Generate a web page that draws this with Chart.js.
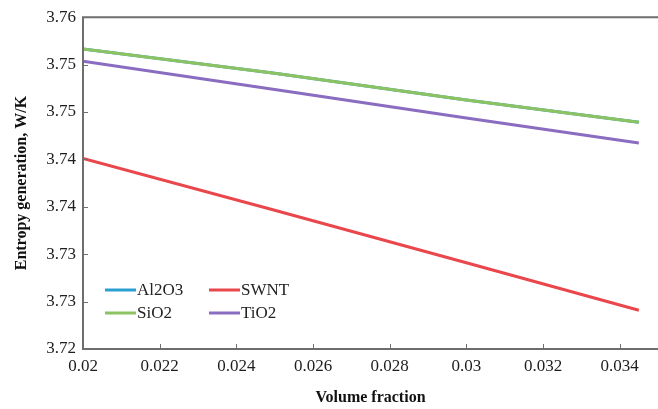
<!DOCTYPE html>
<html>
<head>
<meta charset="utf-8">
<script src="https://cdn.jsdelivr.net/npm/chart.js@4.4.1/dist/chart.umd.min.js"></script>
<style>
  html, body { margin: 0; padding: 0; background: #fff; }
  #wrap { width: 658px; height: 409px; }
</style>
</head>
<body>
<div id="wrap"><canvas id="entropyChart" width="658" height="409"></canvas></div>
<script>
// volume fraction samples
const volumeFraction = [0.02, 0.025, 0.03, 0.0345];

// entropy generation (W/K) per nanofluid
const al2o3 = [3.7548, 3.7520, 3.7489, 3.7463];
const sio2  = [3.7548, 3.7520, 3.7489, 3.7463];
const swnt  = [3.7421, 3.7361, 3.7300, 3.7245];
const tio2  = [3.7534, 3.7501, 3.7468, 3.7439];

const xTickValues = [0.02, 0.022, 0.024, 0.026, 0.028, 0.03, 0.032, 0.034];
const xTickLabels = ['0.02', '0.022', '0.024', '0.026', '0.028', '0.03', '0.032', '0.034'];
const yTickValues = [3.72, 3.7255, 3.731, 3.7365, 3.742, 3.7475, 3.753, 3.7585];
const yTickLabels = ['3.72', '3.73', '3.73', '3.74', '3.74', '3.75', '3.75', '3.76'];

const serif = '"Liberation Serif", "DejaVu Serif", serif';

function points(ys) {
    return ys.map((y, i) => ({ x: volumeFraction[i], y: y }));
}

// left/top/bottom frame plus short inward tick marks
const frame = {
    id: 'frame',
    afterDatasetsDraw(chart) {
        const { ctx, chartArea: a, scales } = chart;
        ctx.save();
        ctx.strokeStyle = '#6e6e6e';
        ctx.lineWidth = 2;
        ctx.beginPath();
        ctx.moveTo(a.right, a.top);
        ctx.lineTo(a.left, a.top);
        ctx.lineTo(a.left, a.bottom);
        ctx.lineTo(a.right, a.bottom);
        ctx.stroke();
        ctx.lineWidth = 1;
        ctx.beginPath();
        scales.y.ticks.forEach(t => {
            const py = Math.round(scales.y.getPixelForValue(t.value)) + 0.5;
            ctx.moveTo(a.left, py);
            ctx.lineTo(a.left + 5, py);
        });
        scales.x.ticks.forEach(t => {
            const px = Math.round(scales.x.getPixelForValue(t.value)) + 0.5;
            ctx.moveTo(px, a.bottom);
            ctx.lineTo(px, a.bottom - 5);
        });
        ctx.stroke();
        ctx.restore();
    }
};

// two-column legend inside the plot, lower left
const insideLegend = {
    id: 'insideLegend',
    afterDraw(chart) {
        const { ctx, chartArea: a } = chart;
        const slots = [
            { dx: 22, dy: -59 }, { dx: 126, dy: -59 },
            { dx: 22, dy: -36 }, { dx: 126, dy: -36 }
        ];
        const order = [0, 2, 1, 3];
        ctx.save();
        ctx.font = '17px ' + serif;
        ctx.fillStyle = '#222';
        ctx.textBaseline = 'middle';
        order.forEach((di, k) => {
            const ds = chart.data.datasets[di];
            const s = slots[k];
            const x = a.left + s.dx, y = a.bottom + s.dy;
            ctx.strokeStyle = ds.borderColor;
            ctx.lineWidth = 3;
            ctx.beginPath();
            ctx.moveTo(x, y);
            ctx.lineTo(x + 31, y);
            ctx.stroke();
            ctx.fillText(ds.label, x + 32, y + 1);
        });
        ctx.restore();
    }
};

new Chart(document.getElementById('entropyChart').getContext('2d'), {
    type: 'line',
    data: {
        datasets: [
            { label: 'Al2O3', data: points(al2o3), borderColor: '#2b9ed2', order: 4 },
            { label: 'SiO2',  data: points(sio2),  borderColor: '#8cc360', order: 1 },
            { label: 'SWNT',  data: points(swnt),  borderColor: '#e9474c', order: 2 },
            { label: 'TiO2',  data: points(tio2),  borderColor: '#8a6cc0', order: 3 }
        ]
    },
    options: {
        responsive: false,
        animation: false,
        layout: { padding: { top: 16, right: 0, left: 0, bottom: 0 } },
        elements: {
            point: { radius: 0 },
            line: { borderWidth: 3, tension: 0, fill: false }
        },
        plugins: {
            legend: { display: false },
            tooltip: { enabled: false }
        },
        scales: {
            x: {
                type: 'linear',
                min: 0.02,
                max: 0.035,
                afterBuildTicks: axis => { axis.ticks = xTickValues.map(v => ({ value: v })); },
                afterFit: axis => { axis.height = 60; },
                grid: { display: false, drawTicks: false },
                border: { display: false },
                ticks: {
                    padding: 7,
                    autoSkip: false,
                    maxRotation: 0,
                    color: '#1e1e1e',
                    font: { family: serif, size: 17 },
                    callback: (v, i) => xTickLabels[i]
                },
                title: {
                    display: true,
                    text: 'Volume fraction',
                    color: '#111',
                    font: { family: serif, size: 16, weight: 'bold' },
                    padding: { top: 4, bottom: 2 }
                }
            },
            y: {
                type: 'linear',
                min: yTickValues[0],
                max: yTickValues[yTickValues.length - 1],
                afterBuildTicks: axis => { axis.ticks = yTickValues.map(v => ({ value: v })); },
                afterFit: axis => { axis.width = 83; },
                grid: { display: false, drawTicks: false },
                border: { display: false },
                ticks: {
                    padding: 7,
                    autoSkip: false,
                    color: '#1e1e1e',
                    font: { family: serif, size: 17 },
                    callback: (v, i) => yTickLabels[i]
                },
                title: {
                    display: true,
                    text: 'Entropy generation, W/K',
                    color: '#111',
                    font: { family: serif, size: 16, weight: 'bold' },
                    padding: { top: 12, bottom: 0 }
                }
            }
        }
    },
    plugins: [frame, insideLegend]
});
</script>
</body>
</html>
